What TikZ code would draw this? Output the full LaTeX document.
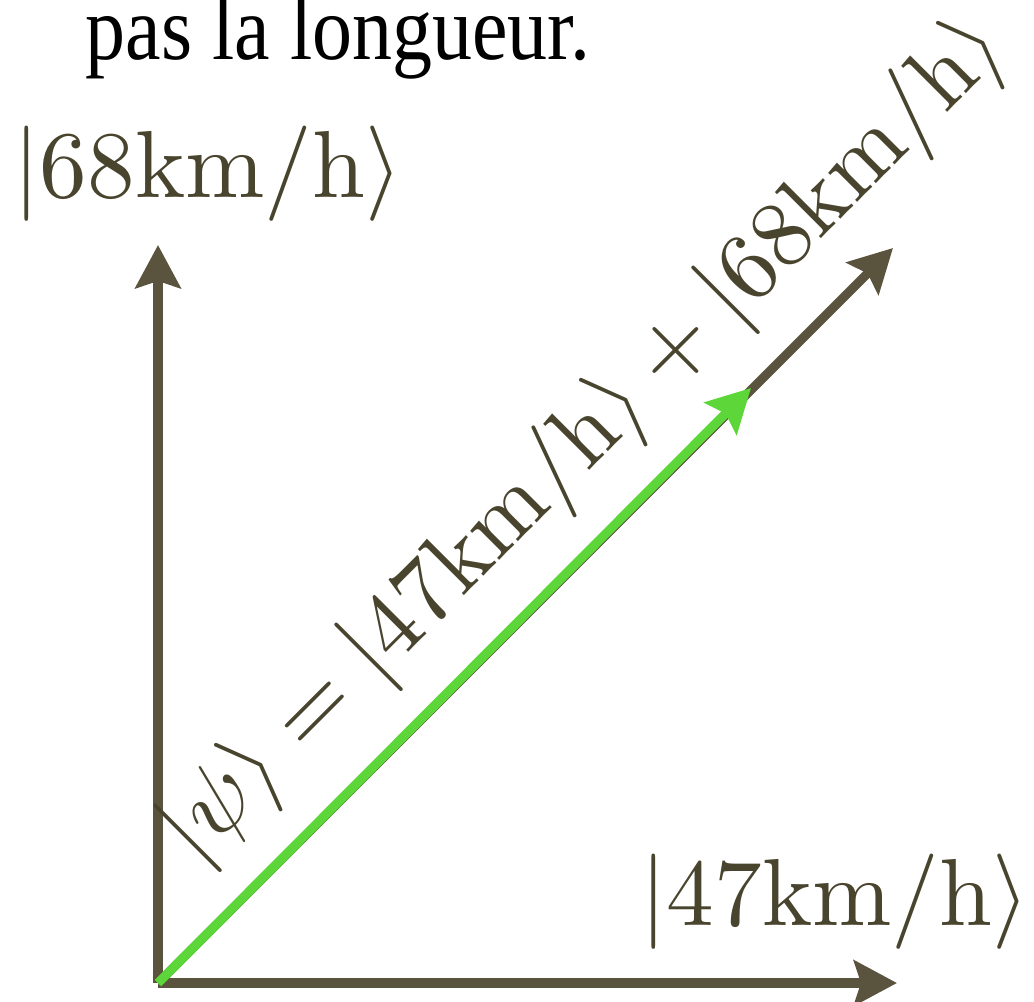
\documentclass[tikz,border=0pt]{standalone}
\usepackage{fontspec}
\newfontfamily\titlefont[FakeStretch=0.875]{Liberation Serif}
\usepackage{xcolor}
\usepackage{tikz}
\usetikzlibrary{arrows.meta,positioning}
\definecolor{axisolive}{RGB}{90,84,62}
\definecolor{labelolive}{RGB}{72,68,46}
\definecolor{psigreen}{RGB}{92,214,56}

\begin{document}
\begin{tikzpicture}[scale=1.0, font=\normalsize,
  vecarrow/.style={line width=2.6pt, -{Stealth[length=4.3mm,width=4.5mm,inset=0.7mm]}},
  ketlabel/.style={labelolive, anchor=base, scale=2.71}]
\useasboundingbox (-1.58,-0.18) rectangle (8.76,9.83);
% the two basis axes
\coordinate (O) at (0,0);
\coordinate (ytip) at (0,7.38);
\coordinate (xtip) at (7.39,0);
\draw[vecarrow, axisolive] (O) -- (ytip);
\draw[vecarrow, axisolive] (O) -- (xtip);
\node[ketlabel] (ylabel) at (0.50,7.86) {$|68\mathrm{km}/\mathrm{h}\rangle$};
\node[ketlabel] (xlabel) at (6.77,0.58) {$|47\mathrm{km}/\mathrm{h}\rangle$};
% sum vector, psi drawn over it
\coordinate (sumtip) at (7.35,7.35);
\coordinate (psitip) at (5.93,5.95);
\draw[vecarrow, axisolive] (O) -- (sumtip);
\draw[vecarrow, psigreen] (O) -- (psitip);
\node[ketlabel, rotate=45] (psilabel) at (4.44,5.25) {$|\psi\rangle = |47\mathrm{km}/\mathrm{h}\rangle + |68\mathrm{km}/\mathrm{h}\rangle$};
% caption line, cut off at the top
\node[anchor=base, font=\titlefont\fontsize{26}{31}\selectfont] (caption) at (1.80,9.23) {pas la longueur.};
\end{tikzpicture}
\end{document}
